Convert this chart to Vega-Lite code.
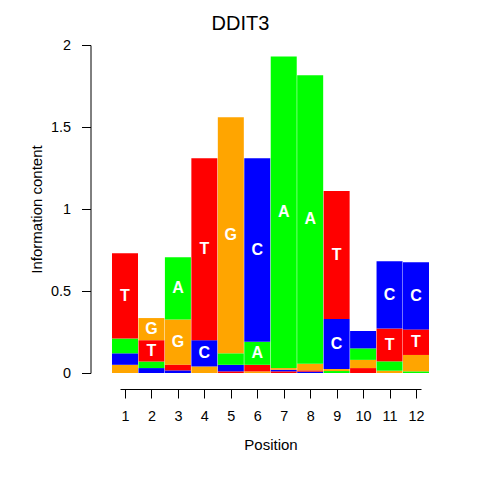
{
  "$schema": "https://vega.github.io/schema/vega-lite/v6.json",
  "autosize": "none",
  "width": 301,
  "height": 328,
  "padding": {"left": 120, "top": 45, "right": 59, "bottom": 107},
  "title": {
    "text": "DDIT3",
    "font": "Liberation Sans",
    "fontSize": 20,
    "fontWeight": "normal",
    "color": "black",
    "offset": 3,
    "dx": -30
  },
  "data": {
    "values": [
      {"pos": 1, "letter": "G", "bits": 0.05},
      {"pos": 1, "letter": "C", "bits": 0.07},
      {"pos": 1, "letter": "A", "bits": 0.09},
      {"pos": 1, "letter": "T", "bits": 0.52},
      {"pos": 2, "letter": "C", "bits": 0.03},
      {"pos": 2, "letter": "A", "bits": 0.04},
      {"pos": 2, "letter": "T", "bits": 0.13},
      {"pos": 2, "letter": "G", "bits": 0.135},
      {"pos": 3, "letter": "C", "bits": 0.016},
      {"pos": 3, "letter": "T", "bits": 0.035},
      {"pos": 3, "letter": "G", "bits": 0.275},
      {"pos": 3, "letter": "A", "bits": 0.38},
      {"pos": 4, "letter": "G", "bits": 0.04},
      {"pos": 4, "letter": "C", "bits": 0.16},
      {"pos": 4, "letter": "T", "bits": 1.11},
      {"pos": 5, "letter": "T", "bits": 0.01},
      {"pos": 5, "letter": "C", "bits": 0.04},
      {"pos": 5, "letter": "A", "bits": 0.07},
      {"pos": 5, "letter": "G", "bits": 1.44},
      {"pos": 6, "letter": "G", "bits": 0.01},
      {"pos": 6, "letter": "T", "bits": 0.04},
      {"pos": 6, "letter": "A", "bits": 0.14},
      {"pos": 6, "letter": "C", "bits": 1.12},
      {"pos": 7, "letter": "T", "bits": 0.01},
      {"pos": 7, "letter": "C", "bits": 0.01},
      {"pos": 7, "letter": "G", "bits": 0.01},
      {"pos": 7, "letter": "A", "bits": 1.9},
      {"pos": 8, "letter": "C", "bits": 0.008},
      {"pos": 8, "letter": "T", "bits": 0.008},
      {"pos": 8, "letter": "G", "bits": 0.04},
      {"pos": 8, "letter": "A", "bits": 1.76},
      {"pos": 9, "letter": "A", "bits": 0.012},
      {"pos": 9, "letter": "G", "bits": 0.012},
      {"pos": 9, "letter": "C", "bits": 0.305},
      {"pos": 9, "letter": "T", "bits": 0.78},
      {"pos": 10, "letter": "T", "bits": 0.03},
      {"pos": 10, "letter": "G", "bits": 0.05},
      {"pos": 10, "letter": "A", "bits": 0.07},
      {"pos": 10, "letter": "C", "bits": 0.106},
      {"pos": 11, "letter": "G", "bits": 0.014},
      {"pos": 11, "letter": "A", "bits": 0.057},
      {"pos": 11, "letter": "T", "bits": 0.2},
      {"pos": 11, "letter": "C", "bits": 0.41},
      {"pos": 12, "letter": "A", "bits": 0.01},
      {"pos": 12, "letter": "G", "bits": 0.1},
      {"pos": 12, "letter": "T", "bits": 0.156},
      {"pos": 12, "letter": "C", "bits": 0.41}
    ]
  },
  "transform": [
    {"stack": "bits", "groupby": ["pos"], "sort": [{"field": "bits", "order": "ascending"}], "as": ["y0", "y1"]}
  ],
  "encoding": {
    "x": {
      "field": "pos",
      "type": "quantitative",
      "scale": {"domain": [1, 12], "nice": false, "zero": false},
      "axis": {
        "values": [1, 2, 3, 4, 5, 6, 7, 8, 9, 10, 11, 12],
        "offset": 16,
        "labelPadding": 11,
        "titlePadding": 15,
        "title": "Position"
      }
    }
  },
  "layer": [
    {
      "mark": {"type": "bar", "width": 26},
      "encoding": {
        "y": {
          "field": "y0",
          "type": "quantitative",
          "scale": {"domain": [0, 2], "nice": false},
          "axis": {
            "values": [0, 0.5, 1, 1.5, 2],
            "format": "~g",
            "offset": 29.5,
            "labelPadding": 11,
            "titlePadding": 6,
            "title": "Information content"
          }
        },
        "y2": {"field": "y1"},
        "color": {
          "field": "letter",
          "type": "nominal",
          "scale": {"domain": ["A", "C", "G", "T"], "range": ["#00FF00", "#0000FF", "#FFA500", "#FF0000"]},
          "legend": null
        }
      }
    },
    {
      "transform": [
        {"filter": "datum.bits >= 0.12"},
        {"calculate": "(datum.y0 + datum.y1) / 2", "as": "mid"}
      ],
      "mark": {"type": "text", "color": "white", "font": "Liberation Sans", "fontWeight": "bold", "fontSize": 16, "baseline": "middle"},
      "encoding": {
        "y": {"field": "mid", "type": "quantitative"},
        "text": {"field": "letter"}
      }
    }
  ],
  "config": {
    "view": {"stroke": null},
    "axis": {
      "grid": false,
      "domainColor": "black",
      "tickColor": "black",
      "tickSize": 9,
      "labelColor": "black",
      "labelFont": "Liberation Sans",
      "labelFontSize": 14.4,
      "labelAngle": 0,
      "titleColor": "black",
      "titleFont": "Liberation Sans",
      "titleFontSize": 15,
      "titleFontWeight": "normal"
    }
  }
}
